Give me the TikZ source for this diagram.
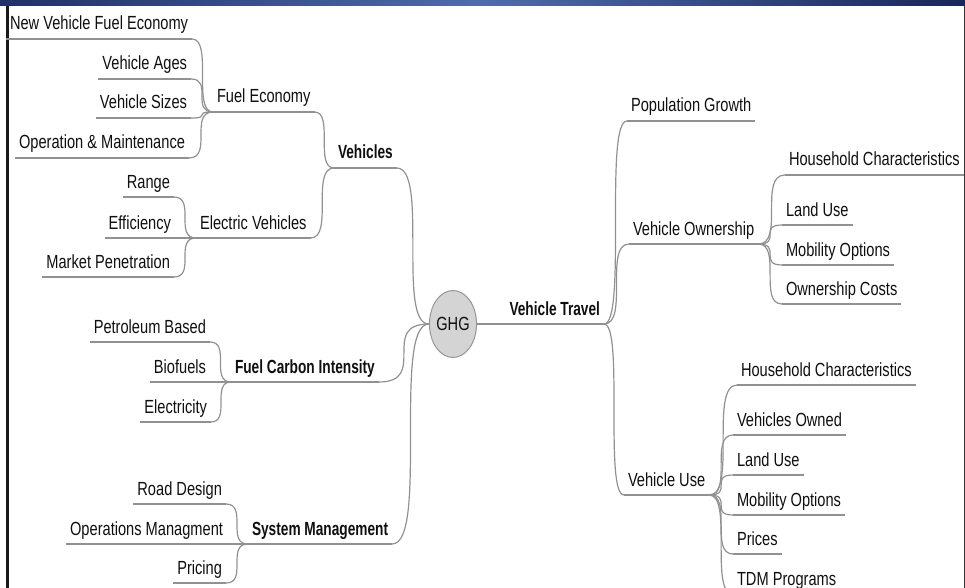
\documentclass[tikz,border=0pt]{standalone}
\usepackage{fontspec}
\setmainfont{Liberation Sans}[FakeStretch=0.77, BoldFeatures={FakeStretch=0.72}]
\usetikzlibrary{shapes.geometric}
\definecolor{txt}{RGB}{15,15,15}
\definecolor{lkc}{RGB}{145,145,145}
\definecolor{ghgfill}{RGB}{212,212,212}
\definecolor{ghgline}{RGB}{150,150,150}
\definecolor{navyA}{RGB}{32,48,105}
\definecolor{navyB}{RGB}{24,38,92}
\definecolor{blueL}{RGB}{78,108,172}
\begin{document}
\begin{tikzpicture}[x=1pt,y=-1pt,
  every node/.style={font=\fontsize{19}{21}\selectfont, text=txt},
  lbl/.style={inner xsep=4pt, inner ysep=9pt, text depth=0pt, outer sep=0pt},
  bld/.style={lbl, font=\fontsize{19}{21}\selectfont\bfseries},
  lk/.style={draw=lkc, line width=1.2pt},
  conn/.style={to path={.. controls (\tikztotarget |- \tikztostart) and (\tikztostart |- \tikztotarget) .. (\tikztotarget)}}]
\useasboundingbox (0,0) rectangle (965,588);
% frame
\shade[left color=navyA, right color=navyB, middle color=blueL] (0,0) rectangle (965,6);
\fill[black!90] (6,6) rectangle (9,588);
\fill[black!80] (963.5,6) rectangle (965,588);

% central node
\node[ellipse, draw=ghgline, fill=ghgfill, line width=1pt, minimum width=47pt, minimum height=67pt, inner sep=0pt] (ghg) at (453,324) {GHG};

% left: Vehicles
\node[lbl, anchor=base west] (nvfe) at (6,30) {New Vehicle Fuel Economy};
\node[lbl, anchor=base east] (vages) at (191,70) {Vehicle Ages};
\node[lbl, anchor=base east] (vsizes) at (191,109) {Vehicle Sizes};
\node[lbl, anchor=base east] (om) at (189,149) {Operation \& Maintenance};
\node[lbl, anchor=base west] (fe) at (213,103) {Fuel Economy};
\node[bld, anchor=base west] (veh) at (334,159) {Vehicles};
\node[lbl, anchor=base east] (range) at (174,188) {Range};
\node[lbl, anchor=base east] (eff) at (175,229) {Efficiency};
\node[lbl, anchor=base east] (mp) at (174,268) {Market Penetration};
\node[lbl, anchor=base west] (ev) at (196,229) {Electric Vehicles};
% left: Fuel Carbon Intensity
\node[lbl, anchor=base east] (pb) at (210,333) {Petroleum Based};
\node[lbl, anchor=base east] (bio) at (210,373) {Biofuels};
\node[lbl, anchor=base east] (elec) at (211,413) {Electricity};
\node[bld, anchor=base west] (fci) at (231,373) {Fuel Carbon Intensity};
% left: System Management
\node[lbl, anchor=base east] (rd) at (226,495) {Road Design};
\node[lbl, anchor=base east] (opm) at (227,535) {Operations Managment};
\node[lbl, anchor=base east] (pri) at (226,574) {Pricing};
\node[bld, anchor=base west] (sm) at (248,535) {System Management};

% right: Vehicle Travel
\node[bld, anchor=base east] (vt) at (604,315) {Vehicle Travel};
\node[lbl, anchor=base west] (pg) at (627,112) {Population Growth};
\node[lbl, anchor=base west] (vo) at (629,235) {Vehicle Ownership};
\node[lbl, anchor=base west] (vu) at (624,486) {Vehicle Use};
\node[lbl, anchor=base west] (hc1) at (785,166) {Household Characteristics};
\node[lbl, anchor=base west] (lu1) at (782,216) {Land Use};
\node[lbl, anchor=base west] (mo1) at (782,256) {Mobility Options};
\node[lbl, anchor=base west] (oc) at (782,295) {Ownership Costs};
\node[lbl, anchor=base west] (hc2) at (737,376) {Household Characteristics};
\node[lbl, anchor=base west] (vow) at (733,426) {Vehicles Owned};
\node[lbl, anchor=base west] (lu2) at (733,466) {Land Use};
\node[lbl, anchor=base west] (mo2) at (733,506) {Mobility Options};
\node[lbl, anchor=base west] (prc) at (733,545) {Prices};
\node[lbl, anchor=base west] (tdm) at (733,585) {TDM Programs};

% underlines
\foreach \n in {nvfe,vages,vsizes,om,fe,veh,range,eff,mp,ev,pb,bio,elec,fci,rd,opm,pri,sm,
                pg,vo,vu,hc1,lu1,mo1,oc,hc2,vow,lu2,mo2,prc,tdm}
  \draw[lk] (\n.south west) -- (\n.south east);
\draw[lk] (ghg.east) -- (vt.south east);

% left connectors
\foreach \c/\p in {nvfe/fe,vages/fe,vsizes/fe,om/fe,range/ev,eff/ev,mp/ev,
                   pb/fci,bio/fci,elec/fci,rd/sm,opm/sm,pri/sm,fe/veh,ev/veh}
  \draw[lk] (\c.south east) to[conn] (\p.south west);
\foreach \c in {veh,fci,sm}
  \draw[lk] (\c.south east) to[conn] (ghg.west);

% right connectors
\foreach \p/\c in {vt/pg,vt/vo,vt/vu,vo/hc1,vo/lu1,vo/mo1,vo/oc,
                   vu/hc2,vu/vow,vu/lu2,vu/mo2,vu/prc,vu/tdm}
  \draw[lk] (\p.south east) to[conn] (\c.south west);
\end{tikzpicture}
\end{document}
